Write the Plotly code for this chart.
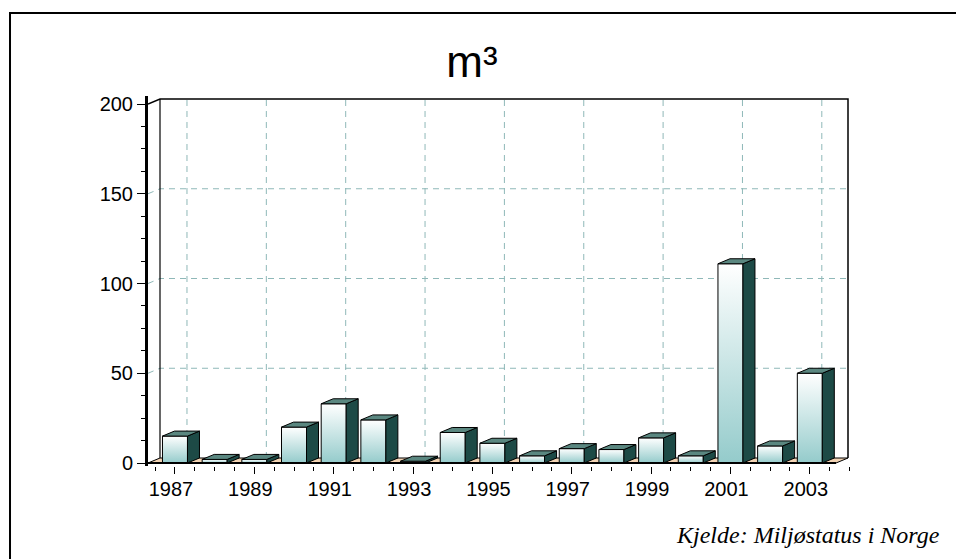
import plotly.graph_objects as go

# Annual volumes (m³)
years = list(range(1987, 2004))
volumes = [15, 2, 2, 20, 33, 24, 1, 17, 11, 4, 8, 7.5, 14, 4, 111, 9.5, 50]

y_tick_values = [0, 50, 100, 150, 200]
x_tick_years = list(range(1987, 2004, 2))

title_text = "m³"
source_text = "Kjelde: Miljøstatus i Norge"

# ---- geometry of the pseudo-3D box (data units) ----
W, H = 956, 559
PX_PER_YEAR = 39.68
PX_PER_UNIT = 1.795
X_FRONT_LEFT = 1986.32
X_FRONT_RIGHT = 2003.66
DX = 12 / PX_PER_YEAR          # depth offset along x
DY = 5 / PX_PER_UNIT           # depth offset along y
Y_TOP = 200
HALF_W = 0.315                 # half width of a bar's front face
PAD_X = 3 / PX_PER_YEAR
PAD_Y = 3 / PX_PER_UNIT

x_range = [X_FRONT_LEFT, X_FRONT_RIGHT + DX + PAD_X]
y_range = [-PAD_Y, Y_TOP + DY + PAD_Y]

m_left = 148
plot_w = (x_range[1] - x_range[0]) * PX_PER_YEAR
plot_h = (y_range[1] - y_range[0]) * PX_PER_UNIT
m_bottom = H - (463 + 3)
m_top = H - m_bottom - plot_h
m_right = W - m_left - plot_w


def px_to_paper(px, py):
    return (px - m_left) / plot_w, (H - m_bottom - py) / plot_h


fig = go.Figure()

# floor
fx = [X_FRONT_LEFT, X_FRONT_RIGHT, X_FRONT_RIGHT + DX, X_FRONT_LEFT + DX, X_FRONT_LEFT]
fy = [0, 0, DY, DY, 0]
fig.add_trace(go.Scatter(x=fx, y=fy, mode="lines", fill="toself",
                         fillcolor="#f2d3b3", line=dict(color="black", width=1),
                         hoverinfo="skip"))

# dashed grid on the back wall, plus connectors from the value axis
gx, gy = [], []
for v in y_tick_values[1:-1]:
    gx += [X_FRONT_LEFT, X_FRONT_LEFT + DX, X_FRONT_RIGHT + DX, None]
    gy += [v, v + DY, v + DY, None]
for yr in x_tick_years:
    gx += [yr + DX, yr + DX, None]
    gy += [DY, Y_TOP + DY, None]
fig.add_trace(go.Scatter(x=gx, y=gy, mode="lines",
                         line=dict(color="#8fb8b8", width=1, dash="6px,5px"),
                         hoverinfo="skip"))

# back wall outline
wx = [X_FRONT_LEFT, X_FRONT_LEFT + DX, X_FRONT_RIGHT + DX, X_FRONT_RIGHT + DX]
wy = [Y_TOP, Y_TOP + DY, Y_TOP + DY, DY]
fig.add_trace(go.Scatter(x=wx, y=wy, mode="lines",
                         line=dict(color="black", width=1.5), hoverinfo="skip"))
fig.add_trace(go.Scatter(x=[X_FRONT_LEFT + DX, X_FRONT_LEFT + DX], y=[DY, Y_TOP + DY],
                         mode="lines", line=dict(color="black", width=1.2),
                         hoverinfo="skip"))

# bars: front face (gradient), side face, top face
side_x, side_y, top_x, top_y = [], [], [], []
for yr, v in zip(years, volumes):
    l, r = yr - HALF_W, yr + HALF_W
    fig.add_trace(go.Scatter(
        x=[l, r, r, l, l], y=[0, 0, v, v, 0], mode="lines", fill="toself",
        fillgradient=dict(type="vertical",
                          colorscale=[[0, "#94cbcb"], [1, "#ffffff"]]),
        line=dict(color="black", width=1), hoverinfo="skip"))
    side_x += [r, r + DX, r + DX, r, r, None]
    side_y += [0, DY, v + DY, v, 0, None]
    top_x += [l, r, r + DX, l + DX, l, None]
    top_y += [v, v, v + DY, v + DY, v, None]

fig.add_trace(go.Scatter(x=side_x, y=side_y, mode="lines", fill="toself",
                         fillcolor="#1d4a46", line=dict(color="black", width=1),
                         hoverinfo="skip"))
fig.add_trace(go.Scatter(x=top_x, y=top_y, mode="lines", fill="toself",
                         fillcolor="#5a8780", line=dict(color="black", width=1),
                         hoverinfo="skip"))

# front edge of the floor
fig.add_trace(go.Scatter(x=[X_FRONT_LEFT, X_FRONT_RIGHT], y=[0, 0], mode="lines",
                         line=dict(color="black", width=2), hoverinfo="skip"))

tick_font = dict(family="Liberation Sans, Arial, sans-serif", size=20, color="black")

fig.update_xaxes(
    range=x_range, showgrid=False, zeroline=False, showline=False,
    tickvals=x_tick_years, ticktext=[str(y) for y in x_tick_years],
    ticks="outside", ticklen=7, tickwidth=1, tickcolor="black",
    minor=dict(dtick=0.5, tick0=1987, ticks="outside", ticklen=4,
               tickcolor="black", tickwidth=1),
    tickfont=tick_font, ticklabelshift=-4, ticklabelstandoff=-2,
    fixedrange=True,
)
fig.update_yaxes(
    range=y_range, showgrid=False, zeroline=False,
    showline=True, linecolor="black", linewidth=3,
    tickvals=y_tick_values, ticks="outside", ticklen=8, tickwidth=1,
    tickcolor="black",
    minor=dict(dtick=12.5, tick0=0, ticks="outside", ticklen=4,
               tickcolor="black", tickwidth=1),
    tickfont=tick_font, ticklabelstandoff=0, fixedrange=True,
)

bx0, by0 = px_to_paper(10, 13)
sx, sy = px_to_paper(942, 535)

fig.update_layout(
    width=W, height=H,
    margin=dict(l=m_left, r=m_right, t=m_top, b=m_bottom, pad=0),
    paper_bgcolor="white", plot_bgcolor="white",
    showlegend=False, hovermode=False,
    title=dict(text=title_text, xref="container", yref="container",
               x=472 / W, y=1 - 62 / H, xanchor="center", yanchor="middle",
               font=dict(family="Liberation Sans, Arial, sans-serif", size=44,
                         color="black")),
    annotations=[dict(text=source_text, xref="paper", yref="paper",
                      x=sx, y=sy, xanchor="right", yanchor="middle",
                      showarrow=False,
                      font=dict(family="Liberation Serif, Times New Roman, serif",
                                size=24, color="black", style="italic"))],
    shapes=[dict(type="rect", xref="paper", yref="paper",
                 x0=bx0, y0=-2, x1=3, y1=by0,
                 line=dict(color="black", width=2), layer="above")],
)

fig.write_html("out.html")
